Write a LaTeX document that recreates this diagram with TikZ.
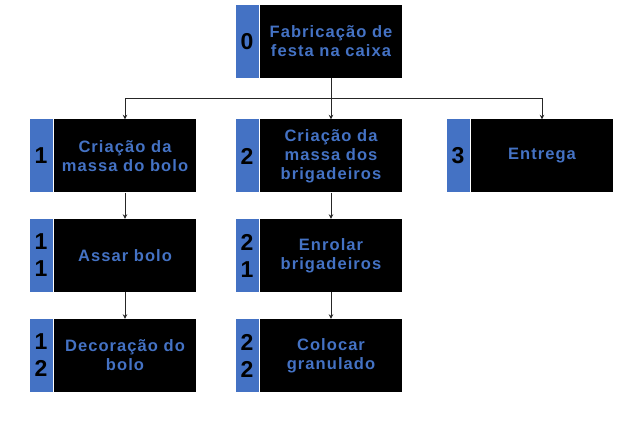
\documentclass[tikz,border=0pt]{standalone}
\usepackage{fontspec}
\setmainfont{Liberation Sans}
\newfontfamily\boxfont[LetterSpace=6.5]{Liberation Sans}
\usetikzlibrary{arrows.meta,positioning}
\definecolor{tabblue}{RGB}{68,114,196}

\tikzset{
  task/.style={fill=black,text=tabblue,minimum width=142pt,minimum height=73pt,
    inner sep=0pt,align=center,font=\boxfont\bfseries\fontsize{16.5}{19}\selectfont},
  numtab/.style={fill=tabblue,text=black,minimum width=23pt,minimum height=73pt,
    inner sep=0pt,align=center,font=\bfseries\fontsize{23}{27}\selectfont},
  link/.style={->,black!85,line width=0.9pt}
}

\begin{document}
\begin{tikzpicture}[x=1pt,y=-1pt,>={Stealth[length=4.5pt,width=4.5pt]}]
    \useasboundingbox (0,0) rectangle (641,438);
    % level 0
    \node[task] (box0) at (331,41.5) {Fabricação de\\festa na caixa};
    \node[numtab,left=1pt of box0] (num0) {0};
    % level 1
    \node[task] (box1) at (125,156) {Criação da\\massa do bolo};
    \node[numtab,left=1pt of box1] (num1) {1};
    \node[task] (box2) at (331,156) {Criação da\\massa dos\\brigadeiros};
    \node[numtab,left=1pt of box2] (num2) {2};
    \node[task] (box3) at (542,156) {Entrega};
    \node[numtab,left=1pt of box3] (num3) {3};
    % level 2
    \node[task] (box11) at (125,255.5) {Assar bolo};
    \node[numtab,left=1pt of box11] (num11) {1\\1};
    \node[task] (box12) at (125,355.5) {Decoração do\\bolo};
    \node[numtab,left=1pt of box12] (num12) {1\\2};
    \node[task] (box21) at (331,255.5) {Enrolar\\brigadeiros};
    \node[numtab,left=1pt of box21] (num21) {2\\1};
    \node[task] (box22) at (331,355.5) {Colocar\\granulado};
    \node[numtab,left=1pt of box22] (num22) {2\\2};
    % connectors
    \coordinate (bus) at (331,98);
    \draw[link,-] (box0.south) -- (bus);
    \draw[link] (bus) -| (box1.north);
    \draw[link] (bus) -- (box2.north);
    \draw[link] (bus) -| (box3.north);
    \draw[link] (box1) -- (box11);
    \draw[link] (box11) -- (box12);
    \draw[link] (box2) -- (box21);
    \draw[link] (box21) -- (box22);
\end{tikzpicture}
\end{document}
